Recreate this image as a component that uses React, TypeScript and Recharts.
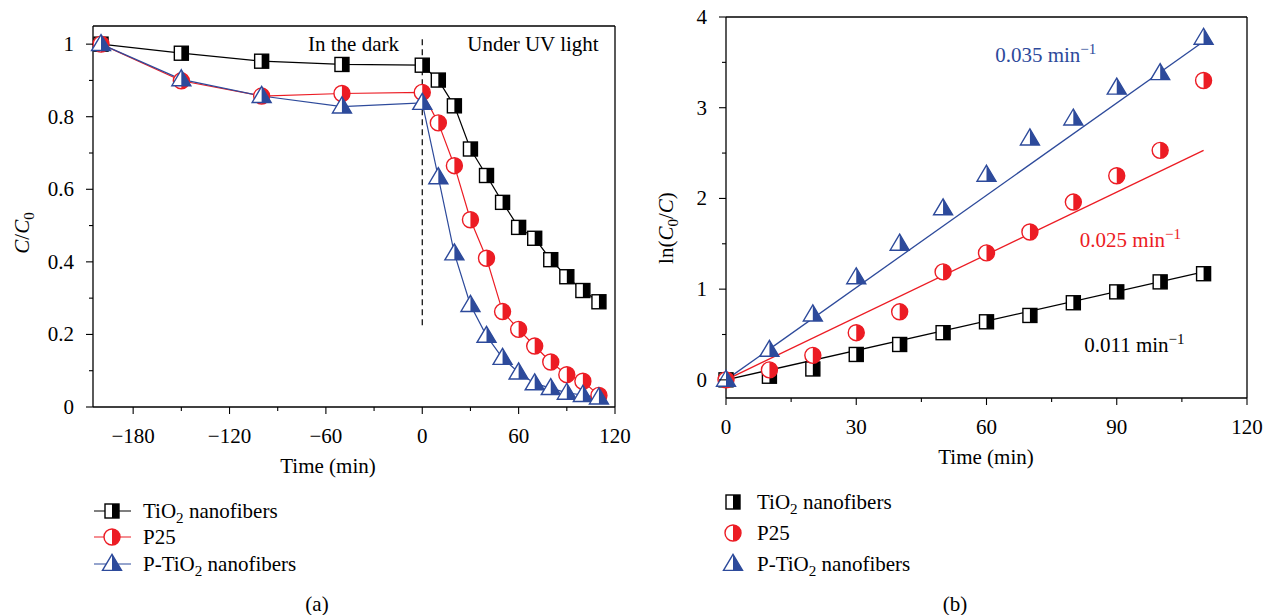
import React from 'react';
import { LineChart, Line, XAxis, YAxis, ReferenceLine, ReferenceDot } from 'recharts';

// Two-panel figure: (a) C/C0 through dark adsorption + UV photolysis,
// (b) ln(C0/C) vs irradiation time with first-order fits.

const FONT = '"Liberation Serif", "Times New Roman", serif';
const FS = 21;
const INK = '#000000';
const RED = '#ec1c24';
const BLUE = '#2d4a9b';

// ---- panel (a) ----
const timeA = [-200, -150, -100, -50, 0, 10, 20, 30, 40, 50, 60, 70, 80, 90, 100, 110];
const tio2A = [1.0, 0.975, 0.953, 0.944, 0.942, 0.901, 0.83, 0.711, 0.638, 0.564, 0.495, 0.465, 0.406, 0.359, 0.321, 0.29];
const p25A = [1.0, 0.899, 0.857, 0.864, 0.867, 0.783, 0.665, 0.516, 0.41, 0.263, 0.214, 0.168, 0.124, 0.089, 0.071, 0.032];
const ptio2A = [1.0, 0.903, 0.857, 0.828, 0.838, 0.633, 0.423, 0.281, 0.196, 0.135, 0.095, 0.065, 0.052, 0.039, 0.033, 0.026];

// ---- panel (b) ----
const timeB = [0, 10, 20, 30, 40, 50, 60, 70, 80, 90, 100, 110];
const tio2B = [0, 0.04, 0.12, 0.28, 0.39, 0.52, 0.64, 0.71, 0.85, 0.97, 1.08, 1.17];
const p25B = [0, 0.11, 0.27, 0.52, 0.75, 1.19, 1.4, 1.63, 1.96, 2.25, 2.53, 3.3];
const ptio2B = [0, 0.33, 0.72, 1.13, 1.5, 1.89, 2.26, 2.66, 2.88, 3.22, 3.38, 3.77];
// linear fits through the origin, drawn between the end times
const fitTime = [0, 110];
const fitTio2 = [0, 1.19];
const fitP25 = [0, 2.53];
const fitPtio2 = [0, 3.73];

const seriesNames = ['TiO2 nanofibers', 'P25', 'P-TiO2 nanofibers'];
const rateLabels = ['0.011', '0.025', '0.035'];

// ticks (major + minor); labels only on the majors
const ticksAX = [-180, -150, -120, -90, -60, -30, 0, 30, 60, 90, 120];
const ticksAY = [0, 0.1, 0.2, 0.3, 0.4, 0.5, 0.6, 0.7, 0.8, 0.9, 1];
const ticksBX = [0, 15, 30, 45, 60, 75, 90, 105, 120];
const ticksBY = [0, 0.5, 1, 1.5, 2, 2.5, 3, 3.5, 4];

const dataA = timeA.map((t, i) => ({ t, tio2: tio2A[i], p25: p25A[i], ptio2: ptio2A[i] }));
const dataB = timeB.map((t, i) => {
  const k = fitTime.indexOf(t);
  return {
    t,
    tio2: tio2B[i],
    p25: p25B[i],
    ptio2: ptio2B[i],
    fitTio2: k >= 0 ? fitTio2[k] : undefined,
    fitP25: k >= 0 ? fitP25[k] : undefined,
    fitPtio2: k >= 0 ? fitPtio2[k] : undefined,
  };
});

const fmtX = (v: number) => (v < 0 ? '\u2212' + Math.abs(v) : String(v));
const fmtAY = (v: number) => (v === 0 ? '0' : v === 1 ? '1' : v.toFixed(1));
const fmtBY = (v: number) => String(v);

// "TiO2" -> TiO with subscript 2
function chem(text: string, size: number) {
  const out: React.ReactNode[] = [];
  let shift = 0;
  let k = 0;
  for (const part of text.split(/(O2)/)) {
    if (!part) continue;
    if (part === 'O2') {
      out.push(<tspan key={k++} dy={shift || undefined}>O</tspan>);
      out.push(<tspan key={k++} dy={5} fontSize={size * 0.72}>2</tspan>);
      shift = -5;
    } else {
      out.push(<tspan key={k++} dy={shift || undefined}>{part}</tspan>);
      shift = 0;
    }
  }
  return out;
}

// ---- markers ----
function HalfSquare({ cx, cy, s = 14 }: any) {
  if (cx == null || cy == null) return null;
  const h = s / 2;
  return (
    <g>
      <rect x={cx - h} y={cy - h} width={s} height={s} fill="#fff" stroke={INK} strokeWidth={1.4} />
      <rect x={cx} y={cy - h} width={h} height={s} fill={INK} />
    </g>
  );
}

function HalfCircle({ cx, cy, r = 8 }: any) {
  if (cx == null || cy == null) return null;
  return (
    <g>
      <circle cx={cx} cy={cy} r={r} fill="#fff" stroke={RED} strokeWidth={1.4} />
      <path d={`M${cx},${cy - r} A${r},${r} 0 0 1 ${cx},${cy + r} Z`} fill={RED} />
    </g>
  );
}

function HalfTriangle({ cx, cy, w = 19, h = 16 }: any) {
  if (cx == null || cy == null) return null;
  const top = cy - h * 0.6;
  const base = cy + h * 0.4;
  return (
    <g>
      <path d={`M${cx},${top} L${cx + w / 2},${base} L${cx - w / 2},${base} Z`} fill="#fff" stroke={BLUE} strokeWidth={1.4} />
      <path d={`M${cx},${top} L${cx + w / 2},${base} L${cx},${base} Z`} fill={BLUE} />
    </g>
  );
}

const dotSquare = (p: any) => <HalfSquare key={`s${p.index}`} cx={p.cx} cy={p.cy} />;
const dotCircle = (p: any) => <HalfCircle key={`c${p.index}`} cx={p.cx} cy={p.cy} />;
const dotTriangle = (p: any) => <HalfTriangle key={`t${p.index}`} cx={p.cx} cy={p.cy} />;

// ---- axis ticks: outward on left/bottom, inward on the right frame ----
function axisTick(side: 'left' | 'bottom' | 'right', step: number, fmt: (v: number) => string) {
  return (p: any) => {
    const { x, y, payload } = p;
    const v = Number(payload.value);
    const major = Math.abs(v / step - Math.round(v / step)) < 1e-6;
    if (side === 'right') {
      const len = major ? 5 : 3;
      return <line x1={x - len} x2={x} y1={y} y2={y} stroke={INK} strokeWidth={1.1} />;
    }
    const len = major ? 7 : 4;
    if (side === 'bottom') {
      return (
        <g>
          <line x1={x} x2={x} y1={y} y2={y + len} stroke={INK} strokeWidth={1.1} />
          {major && (
            <text x={x} y={y + 36} textAnchor="middle" fontFamily={FONT} fontSize={FS} fill={INK}>
              {fmt(v)}
            </text>
          )}
        </g>
      );
    }
    return (
      <g>
        <line x1={x - len} x2={x} y1={y} y2={y} stroke={INK} strokeWidth={1.1} />
        {major && (
          <text x={x - 19} y={y + 7} textAnchor="end" fontFamily={FONT} fontSize={FS} fill={INK}>
            {fmt(v)}
          </text>
        )}
      </g>
    );
  };
}

const axisLine = { stroke: INK, strokeWidth: 1.3 };

function textLabel(text: string, anchor: 'start' | 'end', color: string) {
  return {
    content: (p: any) => {
      const vb = p.viewBox || {};
      return (
        <text x={vb.x} y={vb.y} textAnchor={anchor} fontFamily={FONT} fontSize={FS} fill={color}>
          {text}
        </text>
      );
    },
  };
}

function rateLabel(value: string, color: string) {
  return {
    content: (p: any) => {
      const vb = p.viewBox || {};
      return (
        <text x={vb.x} y={vb.y} fontFamily={FONT} fontSize={FS} fill={color}>
          <tspan>{value} min</tspan>
          <tspan dy={-8} fontSize={15}>{'\u22121'}</tspan>
        </text>
      );
    },
  };
}

function PanelA() {
  return (
    <LineChart width={640} height={480} data={dataA} margin={{ top: 26, right: 24, bottom: 5, left: 0 }}>
      <XAxis
        dataKey="t"
        type="number"
        domain={[-205, 120]}
        ticks={ticksAX}
        interval={0}
        tickLine={false}
        tickSize={0}
        tickMargin={0}
        height={68}
        axisLine={axisLine}
        tick={axisTick('bottom', 60, fmtX)}
        label={{
          content: () => (
            <text x={328} y={473} textAnchor="middle" fontFamily={FONT} fontSize={FS} fill={INK}>
              Time (min)
            </text>
          ),
        }}
      />
      <YAxis
        type="number"
        domain={[0, 1.05]}
        ticks={ticksAY}
        interval={0}
        width={93}
        tickLine={false}
        tickSize={0}
        tickMargin={0}
        axisLine={axisLine}
        tick={axisTick('left', 0.2, fmtAY)}
        label={{
          content: () => (
            <text x={29} y={233} transform="rotate(-90 29 233)" textAnchor="middle" fontFamily={FONT} fontSize={FS} fill={INK}>
              <tspan fontStyle="italic">C</tspan>
              <tspan>/</tspan>
              <tspan fontStyle="italic">C</tspan>
              <tspan dy={5} fontSize={FS * 0.72}>0</tspan>
            </text>
          ),
        }}
      />
      <YAxis
        yAxisId="r"
        orientation="right"
        type="number"
        domain={[0, 1.05]}
        ticks={ticksAY}
        interval={0}
        width={1}
        tickLine={false}
        tickSize={0}
        tickMargin={0}
        axisLine={axisLine}
        tick={axisTick('right', 0.2, fmtAY)}
      />
      <ReferenceLine y={1.05} stroke={INK} strokeWidth={1.3} />
      <ReferenceLine
        segment={[{ x: 0, y: 0.225 }, { x: 0, y: 1.02 }]}
        stroke={INK}
        strokeWidth={1.2}
        strokeDasharray="6 4"
      />
      <ReferenceDot x={-14.5} y={0.98} r={0} fill="none" stroke="none" label={textLabel('In the dark', 'end', INK)} />
      <ReferenceDot x={28} y={0.98} r={0} fill="none" stroke="none" label={textLabel('Under UV light', 'start', INK)} />
      <Line dataKey="tio2" name={seriesNames[0]} stroke={INK} strokeWidth={1.2} dot={dotSquare} activeDot={false} isAnimationActive={false} />
      <Line dataKey="p25" name={seriesNames[1]} stroke={RED} strokeWidth={1.2} dot={dotCircle} activeDot={false} isAnimationActive={false} />
      <Line dataKey="ptio2" name={seriesNames[2]} stroke={BLUE} strokeWidth={1.2} dot={dotTriangle} activeDot={false} isAnimationActive={false} />
    </LineChart>
  );
}

function PanelB() {
  return (
    <LineChart width={623} height={480} data={dataB} margin={{ top: 17, right: 15, bottom: 14, left: 0 }}>
      <XAxis
        dataKey="t"
        type="number"
        domain={[0, 120]}
        ticks={ticksBX}
        interval={0}
        tickLine={false}
        tickSize={0}
        tickMargin={0}
        height={68}
        axisLine={axisLine}
        tick={axisTick('bottom', 30, fmtX)}
        label={{
          content: () => (
            <text x={346} y={464} textAnchor="middle" fontFamily={FONT} fontSize={FS} fill={INK}>
              Time (min)
            </text>
          ),
        }}
      />
      <YAxis
        type="number"
        domain={[-0.2, 4]}
        ticks={ticksBY}
        interval={0}
        width={86}
        tickLine={false}
        tickSize={0}
        tickMargin={0}
        axisLine={axisLine}
        tick={axisTick('left', 1, fmtBY)}
        label={{
          content: () => (
            <text x={33} y={228} transform="rotate(-90 33 228)" textAnchor="middle" fontFamily={FONT} fontSize={FS} fill={INK}>
              <tspan>ln(</tspan>
              <tspan fontStyle="italic">C</tspan>
              <tspan dy={5} fontSize={FS * 0.72}>0</tspan>
              <tspan dy={-5}>/</tspan>
              <tspan fontStyle="italic">C</tspan>
              <tspan>)</tspan>
            </text>
          ),
        }}
      />
      <YAxis
        yAxisId="r"
        orientation="right"
        type="number"
        domain={[-0.2, 4]}
        ticks={ticksBY}
        interval={0}
        width={1}
        tickLine={false}
        tickSize={0}
        tickMargin={0}
        axisLine={axisLine}
        tick={axisTick('right', 1, fmtBY)}
      />
      <ReferenceLine y={4} stroke={INK} strokeWidth={1.3} />
      <Line dataKey="fitTio2" stroke={INK} strokeWidth={1.3} dot={false} activeDot={false} connectNulls isAnimationActive={false} />
      <Line dataKey="fitP25" stroke={RED} strokeWidth={1.3} dot={false} activeDot={false} connectNulls isAnimationActive={false} />
      <Line dataKey="fitPtio2" stroke={BLUE} strokeWidth={1.3} dot={false} activeDot={false} connectNulls isAnimationActive={false} />
      <Line dataKey="tio2" name={seriesNames[0]} stroke="none" dot={dotSquare} activeDot={false} isAnimationActive={false} />
      <Line dataKey="p25" name={seriesNames[1]} stroke="none" dot={dotCircle} activeDot={false} isAnimationActive={false} />
      <Line dataKey="ptio2" name={seriesNames[2]} stroke="none" dot={dotTriangle} activeDot={false} isAnimationActive={false} />
      <ReferenceDot x={62} y={3.5} r={0} fill="none" stroke="none" label={rateLabel(rateLabels[2], BLUE)} />
      <ReferenceDot x={81.5} y={1.46} r={0} fill="none" stroke="none" label={rateLabel(rateLabels[1], RED)} />
      <ReferenceDot x={82.5} y={0.31} r={0} fill="none" stroke="none" label={rateLabel(rateLabels[0], INK)} />
    </LineChart>
  );
}

const markerA = [
  (x: number, y: number) => <HalfSquare cx={x} cy={y} />,
  (x: number, y: number) => <HalfCircle cx={x} cy={y} />,
  (x: number, y: number) => <HalfTriangle cx={x} cy={y} />,
];
const lineColors = [INK, RED, BLUE];

function LegendA() {
  const rows = [31, 57, 84];
  return (
    <svg width={640} height={135} style={{ position: 'absolute', left: 0, top: 480 }}>
      {seriesNames.map((name, i) => (
        <g key={name}>
          <line x1={94} x2={131} y1={rows[i]} y2={rows[i]} stroke={lineColors[i]} strokeWidth={1.2} />
          {markerA[i](112, rows[i])}
          <text x={143} y={rows[i] + 7} fontFamily={FONT} fontSize={FS} fill={INK} style={{ whiteSpace: 'pre' }}>
            {chem(name, FS)}
          </text>
        </g>
      ))}
      <text x={317} y={131} textAnchor="middle" fontFamily={FONT} fontSize={FS} fill={INK}>(a)</text>
    </svg>
  );
}

function LegendB() {
  const rows = [22, 53, 84];
  return (
    <svg width={623} height={135} style={{ position: 'absolute', left: 640, top: 480 }}>
      {seriesNames.map((name, i) => (
        <g key={name}>
          {markerA[i](93, rows[i])}
          <text x={117} y={rows[i] + 7} fontFamily={FONT} fontSize={FS} fill={INK} style={{ whiteSpace: 'pre' }}>
            {chem(name, FS)}
          </text>
        </g>
      ))}
      <text x={315} y={131} textAnchor="middle" fontFamily={FONT} fontSize={FS} fill={INK}>(b)</text>
    </svg>
  );
}

export default function App() {
  return (
    <div style={{ position: 'absolute', left: 0, top: 0, width: 1263, height: 615, background: '#fff', overflow: 'hidden' }}>
      <div style={{ position: 'absolute', left: 0, top: 0 }}>
        <PanelA />
      </div>
      <div style={{ position: 'absolute', left: 640, top: 0 }}>
        <PanelB />
      </div>
      <LegendA />
      <LegendB />
    </div>
  );
}
